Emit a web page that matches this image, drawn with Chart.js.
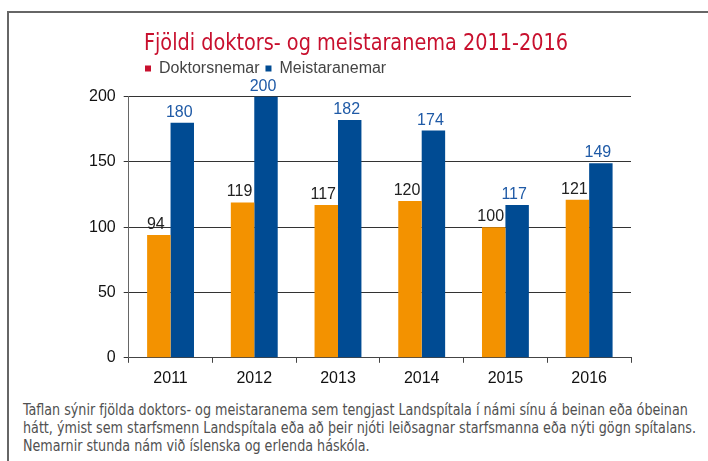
<!DOCTYPE html>
<html>
<head>
<meta charset="utf-8">
<script src="https://cdn.jsdelivr.net/npm/chart.js@4/dist/chart.umd.min.js"></script>
<style>
  html, body { margin: 0; padding: 0; background: #fff; }
  body { width: 708px; height: 461px; position: relative; overflow: hidden; }
  #frame { position: absolute; left: 7px; top: 11px; width: 720px; height: 470px;
           border-left: 2px solid #666; border-top: 2px solid #666; }
  #wrap { position: absolute; left: 0; top: 0; width: 708px; height: 400px; }
  #caption { position: absolute; left: 23px; top: 401px; white-space: nowrap;
             font-family: "DejaVu Sans Condensed", "DejaVu Sans", sans-serif;
             font-stretch: condensed; font-size: 16px; line-height: 18px; color: #505050;
             transform: scaleX(0.885); transform-origin: 0 0; }
</style>
</head>
<body>
<div id="frame"></div>
<div id="wrap"><canvas id="c" width="708" height="400"></canvas></div>
<div id="caption">Taflan sýnir fjölda doktors- og meistaranema sem tengjast Landspítala í námi sínu á beinan eða óbeinan<br>hátt, ýmist sem starfsmenn Landspítala eða að þeir njóti leiðsagnar starfsmanna eða nýti gögn spítalans.<br>Nemarnir stunda nám við íslenska og erlenda háskóla.</div>
<script>
const categories = ["2011", "2012", "2013", "2014", "2015", "2016"];
const doktorsnemar = [94, 119, 117, 120, 100, 121];
const meistaranemar = [180, 200, 182, 174, 117, 149];
const seriesNames = ["Doktorsnemar", "Meistaranemar"];
const titleText = "Fjöldi doktors- og meistaranema 2011-2016";

const valueLabels = {
  id: 'valueLabels',
  afterDatasetsDraw(chart) {
    const ctx = chart.ctx;
    ctx.save();
    ctx.font = '16px "Liberation Sans", Arial, sans-serif';
    ctx.textAlign = 'center';
    ctx.textBaseline = 'alphabetic';
    chart.data.datasets.forEach((ds, i) => {
      const meta = chart.getDatasetMeta(i);
      ctx.fillStyle = i === 0 ? '#222222' : '#1f5aa6';
      meta.data.forEach((bar, j) => {
        ctx.fillText(String(ds.data[j]), bar.x - 3, bar.y - 6);
      });
    });
    ctx.restore();
  }
};

// Positions the legend under the title's left edge and narrows the title like the condensed original.
const boxTweaks = {
  id: 'boxTweaks',
  afterLayout(chart) {
    const lg = chart.legend;
    if (lg) { const dx = 58, dy = 10; lg.left += dx; lg.right += dx; lg.top -= dy; lg.bottom -= dy; }
    const tb = chart.titleBlock;
    if (tb && !tb._narrowed) {
      const orig = tb.draw;
      tb.draw = function (area) {
        const ctx = chart.ctx;
        const cx = (this.left + this.right) / 2;
        ctx.save();
        ctx.translate(cx, 0); ctx.scale(0.932, 1); ctx.translate(-cx, 0);
        orig.call(this, area);
        ctx.restore();
      };
      tb._narrowed = true;
    }
  }
};

new Chart(document.getElementById('c'), {
  type: 'bar',
  data: {
    labels: categories,
    datasets: [
      { label: seriesNames[0], data: doktorsnemar, backgroundColor: '#f39200', borderWidth: 0 },
      { label: seriesNames[1], data: meistaranemar, backgroundColor: '#004b93', borderWidth: 0 }
    ]
  },
  options: {
    responsive: false,
    animation: false,
    layout: { padding: { left: 81, right: 77, top: 0, bottom: 6 } },
    datasets: { bar: { categoryPercentage: 0.56, barPercentage: 1.0 } },
    plugins: {
      title: {
        display: true, text: titleText, color: '#c8102e', align: 'center',
        font: { family: '"DejaVu Sans Condensed", "DejaVu Sans", sans-serif', size: 23, weight: 'normal' },
        padding: { top: 30, bottom: 7 }
      },
      legend: {
        display: true, position: 'top', align: 'start',
        labels: {
          color: '#444', boxWidth: 6, boxHeight: 6, padding: 6,
          font: { family: '"Liberation Sans", Arial, sans-serif', size: 16 },
          generateLabels(chart) {
            const cols = ['#c8102e', '#004b93'];
            return chart.data.datasets.map((ds, i) => ({
              text: ds.label, fillStyle: cols[i], strokeStyle: cols[i], lineWidth: 0,
              hidden: false, datasetIndex: i, fontColor: '#444'
            }));
          }
        }
      },
      tooltip: { enabled: false }
    },
    scales: {
      x: {
        grid: { display: true, drawOnChartArea: false, drawTicks: true, tickLength: 5, color: '#444', offset: true },
        border: { display: true, color: '#444', width: 1 },
        ticks: { color: '#111', padding: 6, font: { family: '"Liberation Sans", Arial, sans-serif', size: 16 } }
      },
      y: {
        min: 0, max: 200,
        grid: { display: true, color: '#333', tickLength: 5, lineWidth: 1 },
        border: { display: true, color: '#666', width: 1 },
        ticks: { stepSize: 50, color: '#111', padding: 8, font: { family: '"Liberation Sans", Arial, sans-serif', size: 16 } }
      }
    }
  },
  plugins: [valueLabels, boxTweaks]
});
</script>
</body>
</html>
